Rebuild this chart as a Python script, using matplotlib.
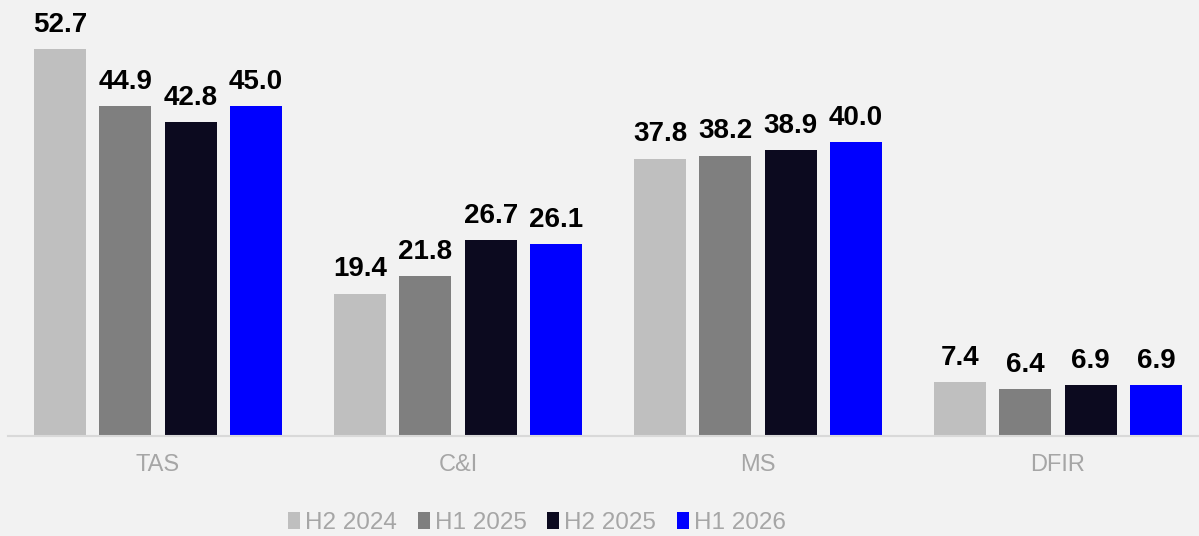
import numpy as np
import matplotlib.pyplot as plt
from matplotlib.patches import Patch

plt.rcParams['font.family'] = ['Liberation Sans', 'DejaVu Sans']

# ---- data ----
categories = ["TAS", "C&I", "MS", "DFIR"]
series_names = ["H2 2024", "H1 2025", "H2 2025", "H1 2026"]
h2_2024 = [52.7, 19.4, 37.8, 7.4]
h1_2025 = [44.9, 21.8, 38.2, 6.4]
h2_2025 = [42.8, 26.7, 38.9, 6.9]
h1_2026 = [45.0, 26.1, 40.0, 6.9]
colors = ["#bfbfbf", "#7f7f7f", "#0c0a1f", "#0000ff"]

bg = "#f2f2f2"
W, H = 1199, 536
fig = plt.figure(figsize=(W / 100, H / 100), dpi=100, facecolor=bg)
ax = fig.add_axes([8 / W, 100 / H, (W - 8) / W, 1 - 100 / H])
ax.set_facecolor(bg)

x = np.arange(len(categories))
bar_w = 52 / 300
stride = 65.3 / 300
for i, (vals, c) in enumerate(zip([h2_2024, h1_2025, h2_2025, h1_2026], colors)):
    pos = x + (i - 1.5) * stride
    ax.bar(pos, vals, width=bar_w, color=c, zorder=2)
    for p, v in zip(pos, vals):
        ax.annotate(f"{v:.1f}", (p, v), xytext=(0, 8), textcoords="offset points",
                    ha="center", va="bottom", fontsize=20, fontweight="bold",
                    color="black")

ax.set_xlim(-0.5, 3.47)
ax.set_ylim(0, 59.4)
ax.set_yticks([])
ax.set_xticks(x)
ax.set_xticklabels(categories, fontsize=17, color="#a6a6a6")
ax.tick_params(axis="x", length=0, pad=13)
for s in ["top", "right", "left"]:
    ax.spines[s].set_visible(False)
ax.spines["bottom"].set_color("#d9d9d9")
ax.spines["bottom"].set_linewidth(1.5)

handles = [Patch(facecolor=c, label=n) for c, n in zip(colors, series_names)]
leg = fig.legend(handles=handles, loc="center", bbox_to_anchor=(537 / W, 1 - 523 / H),
                 ncol=4, frameon=False, fontsize=17.5,
                 handlelength=0.5, handleheight=0.7,
                 handletextpad=0.2, columnspacing=0.85, labelcolor="#a6a6a6")

fig.savefig("out.png", dpi=100, facecolor=bg)
